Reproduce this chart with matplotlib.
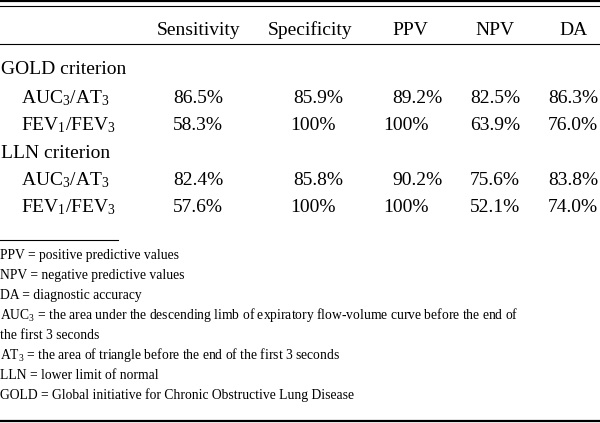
import matplotlib
matplotlib.use('Agg')
import matplotlib.pyplot as plt

plt.rcParams['font.family'] = ['Liberation Serif', 'DejaVu Serif']
plt.rcParams['mathtext.fontset'] = 'custom'
plt.rcParams['mathtext.rm'] = 'Liberation Serif'
plt.rcParams['mathtext.it'] = 'Liberation Serif:italic'
plt.rcParams['mathtext.default'] = 'regular'

# datos de la tabla
columns = ['Sensitivity', 'Specificity', 'PPV', 'NPV', 'DA']
groups = ['GOLD criterion', 'LLN criterion']
methods = [r'AUC$_3$/AT$_3$', r'FEV$_1$/FEV$_3$']
gold_vals = [['86.5%', '85.9%', '89.2%', '82.5%', '86.3%'],
             ['58.3%', '100%', '100%', '63.9%', '76.0%']]
lln_vals = [['82.4%', '85.8%', '90.2%', '75.6%', '83.8%'],
            ['57.6%', '100%', '100%', '52.1%', '74.0%']]
notes = ['PPV = positive predictive values',
         'NPV = negative predictive values',
         'DA = diagnostic accuracy',
         r'AUC$_3$ = the area under the descending limb of expiratory flow-volume curve before the end of',
         'the first 3 seconds',
         r'AT$_3$ = the area of triangle before the end of the first 3 seconds',
         'LLN = lower limit of normal',
         'GOLD = Global initiative for Chronic Obstructive Lung Disease']

fig = plt.figure(figsize=(6, 4.23), dpi=100)
ax = fig.add_axes([0, 0, 1, 1])
ax.set_xlim(0, 600)
ax.set_ylim(423, 0)
ax.axis('off')

fs = 14
# posiciones de columnas
head_x = [199, 310, 410, 495, 574]
cell_x = [173, 293, 392, 470, 548]
hundred_x = {1: 290, 2: 383}

# reglas
ax.plot([0, 600], [1.2, 1.2], color='black', lw=1.6)
ax.plot([0, 600], [5.6, 5.6], color='black', lw=0.8)
ax.plot([0, 600], [44.3, 44.3], color='black', lw=0.8)
ax.plot([0, 118], [240, 240], color='black', lw=0.8)
ax.plot([0, 600], [421.5, 421.5], color='black', lw=1.6)

for c, x in zip(columns, head_x):
    ax.text(x, 35, c, ha='center', va='baseline', fontsize=fs)

base_y = [[74.5, 103, 130.5], [157.5, 185, 212.5]]
for g, name in enumerate(groups):
    ys = base_y[g]
    ax.text(1, ys[0], name, ha='left', va='baseline', fontsize=fs)
    vals = gold_vals if g == 0 else lln_vals
    for r in range(2):
        ax.text(21, ys[r + 1], methods[r], ha='left', va='baseline', fontsize=fs)
        for j, v in enumerate(vals[r]):
            x = hundred_x.get(j, cell_x[j]) if v == '100%' else cell_x[j]
            ax.text(x, ys[r + 1], v, ha='left', va='baseline', fontsize=fs)

note_y = [259, 279, 299, 319, 339, 359, 379, 399]
for t, y in zip(notes, note_y):
    ax.text(0, y, t, ha='left', va='baseline', fontsize=9.8)

plt.savefig('out.png', dpi=100)
